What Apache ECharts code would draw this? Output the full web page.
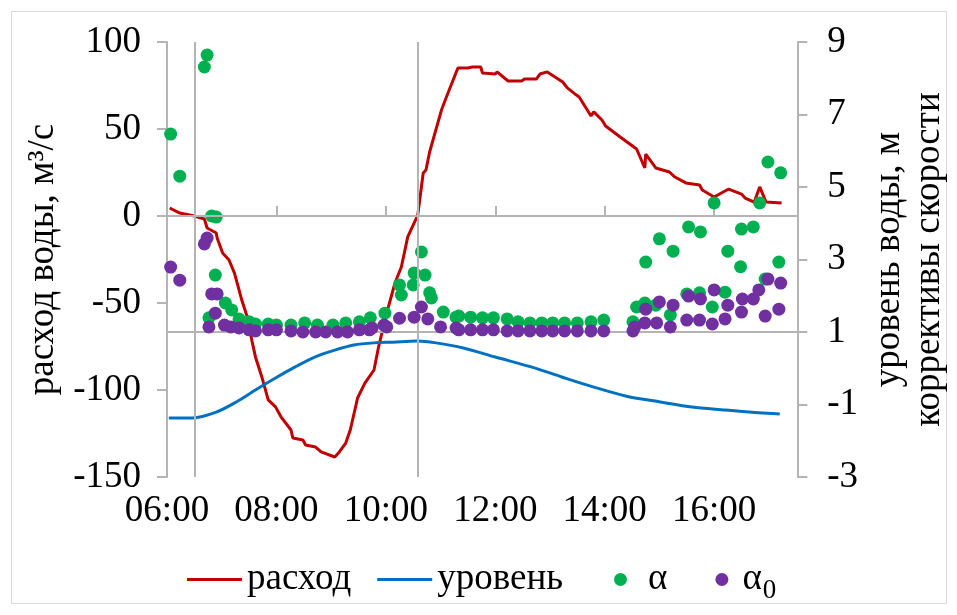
<!DOCTYPE html>
<html>
	<head>
		<meta charset="utf-8">
		<title>расход и уровень воды</title>
		<script src="https://cdn.jsdelivr.net/npm/echarts@6/dist/echarts.min.js"></script>
		<style>
			html, body {
				margin: 0;
				padding: 0;
				background: #fff;
			}

			#chart {
				width: 957px;
				height: 615px;
			}
		</style>
	</head>
	<body>
		<div id="chart"></div>
		<script>
			// расход воды, м3/с (левая ось)
			var flowTimes = ['06:03', '06:14', '06:30', '06:41', '06:44', '06:54', '06:55', '07:01', '07:08', '07:14',
				'07:19', '07:22', '07:28', '07:33', '07:37', '07:44', '07:51', '07:59', '08:05', '08:16', '08:18',
				'08:29', '08:32', '08:43', '08:49', '09:04', '09:09', '09:16', '09:21', '09:29', '09:37', '09:47',
				'09:52', '10:01', '10:10', '10:17', '10:24', '10:35', '10:41', '10:44', '10:48', '11:01', '11:06',
				'11:19', '11:30', '11:35', '11:44', '11:46', '12:00', '12:02', '12:14', '12:29', '12:32', '12:45',
				'12:49', '12:57', '13:14', '13:19', '13:29', '13:32', '13:45', '13:48', '13:57', '14:01', '14:17',
				'14:35', '14:44', '14:45', '14:56', '15:11', '15:17', '15:29', '15:44', '15:47', '16:00', '16:16',
				'16:30', '16:34', '16:44', '16:50', '16:57', '17:14'
			];
			var flowValues = [4.6, 1.7, 0, -1.7, -6.9, -9.8, -12.6, -21.3, -25.3, -32.8,
				-42.5, -48.3, -58, -71.3, -81, -92.5, -105.7, -109.7, -115.4, -123, -127.6,
				-128.7, -131.6, -132.8, -135.6, -138.5, -135.6, -130.5, -123, -104.6, -96, -88.5,
				-75.3, -55.7, -38.5, -29.3, -12, 0.5, 24.7, 26.4, 36.8, 60.9, 67.8,
				85.1, 85.1, 85.6, 85.6, 82.2, 81.6, 82.8, 77.6, 77.6, 78.7, 78.7,
				81.6, 82.8, 77, 73.6, 69.5, 68.4, 57.5, 59.8, 55.2, 51.7, 45.4,
				38.5, 27.6, 35.6, 27.6, 25.3, 22.4, 19, 17.8, 14.9, 10.9, 15.5,
				12.6, 10.3, 8, 16.7, 8, 7.5
			];

			// уровень воды, м (правая ось)
			var levelTimes = ['06:02', '06:28', '06:54', '07:16', '07:37', '07:59', '08:20', '08:42', '09:04', '09:25',
				'09:47', '10:08', '10:34', '10:55', '11:25', '12:00', '12:43', '13:13', '13:48', '14:24', '15:01',
				'15:36', '16:12', '16:49', '17:12'
			];
			var levelValues = [-1.37, -1.37, -1.21, -0.93, -0.6, -0.27, 0.03, 0.31, 0.5, 0.64,
				0.7, 0.72, 0.75, 0.7, 0.56, 0.31, 0.01, -0.24, -0.52, -0.77, -0.93,
				-1.07, -1.15, -1.23, -1.26
			];

			// корректив скорости α (правая ось)
			var alphaTimes = ['06:04', '06:14', '06:41', '06:44', '06:49', '06:54', '06:53', '06:46', '07:04', '07:11',
				'07:19', '07:30', '07:37', '07:51', '08:00', '08:16', '08:31', '08:45', '09:02', '09:16', '09:31',
				'09:43', '09:59', '10:15', '10:17', '10:30', '10:31', '10:39', '10:43', '10:48', '10:50', '11:03',
				'11:17', '11:20', '11:33', '11:46', '11:58', '12:13', '12:25', '12:38', '12:51', '13:03', '13:16',
				'13:30', '13:45', '13:59', '14:31', '14:35', '14:44', '14:45', '14:56', '15:00', '15:12', '15:15',
				'15:30', '15:32', '15:44', '15:45', '15:58', '16:00', '16:12', '16:15', '16:29', '16:30', '16:43',
				'16:50', '16:56', '16:59', '17:11', '17:13'
			];
			var alphaValues = [6.46, 5.3, 8.31, 8.64, 4.2, 4.17, 2.57, 1.39, 1.8, 1.61,
				1.36, 1.28, 1.22, 1.22, 1.19, 1.19, 1.25, 1.19, 1.19, 1.25, 1.28,
				1.39, 1.52, 2.3, 2.02, 2.3, 2.63, 3.21, 2.57, 2.08, 1.94, 1.55,
				1.41, 1.44, 1.41, 1.39, 1.39, 1.36, 1.28, 1.25, 1.25, 1.25, 1.25,
				1.25, 1.28, 1.33, 1.28, 1.69, 1.8, 2.93, 1.74, 3.57, 1.47, 3.23,
				2.05, 3.9, 2.08, 3.76, 1.69, 4.56, 2.1, 3.23, 2.8, 3.84, 3.9,
				4.56, 2.46, 5.69, 2.93, 5.39
			];

			// α0 (правая ось)
			var alpha0Times = ['06:04', '06:14', '06:41', '06:44', '06:49', '06:55', '06:53', '06:46', '07:03', '07:10',
				'07:19', '07:30', '07:37', '07:51', '08:00', '08:16', '08:29', '08:43', '08:54', '09:07', '09:18',
				'09:31', '09:42', '09:45', '09:58', '10:01', '10:15', '10:31', '10:39', '10:46', '11:00', '11:17',
				'11:20', '11:33', '11:46', '11:58', '12:13', '12:25', '12:38', '12:51', '13:03', '13:16', '13:30',
				'13:45', '13:59', '14:31', '14:33', '14:44', '14:45', '14:57', '15:00', '15:12', '15:15', '15:30',
				'15:32', '15:44', '15:45', '15:58', '16:00', '16:12', '16:15', '16:30', '16:31', '16:43', '16:49',
				'16:56', '16:59', '17:11', '17:13'
			];
			var alpha0Values = [2.79, 2.43, 3.43, 3.59, 2.05, 2.05, 1.52, 1.14, 1.19, 1.14,
				1.11, 1.06, 1.03, 1.06, 1.06, 1.03, 1, 1, 1, 1, 1,
				1.06, 1.06, 1.11, 1.19, 1.14, 1.38, 1.41, 1.69, 1.36, 1.14, 1.11,
				1.06, 1.06, 1.06, 1.06, 1.03, 1.03, 1.03, 1.03, 1.03, 1.03, 1.03,
				1.03, 1.03, 1.03, 1.14, 1.25, 1.63, 1.25, 1.83, 1.14, 1.74, 1.33,
				1.99, 1.33, 1.91, 1.22, 2.16, 1.36, 1.74, 1.55, 1.91, 1.91, 2.16,
				1.44, 2.46, 1.63, 2.35
			];

			// опорные линии
			var markTimes = ['06:30', '10:35'];
			var flowRef = 0;
			var alphaRef = 1;

			var xTicks = ['06:00', '08:00', '10:00', '12:00', '14:00', '16:00'];

			function toHours(s) {
				var p = s.split(':');
				return +p[0] + p[1] / 60;
			}

			function zip(times, values) {
				var out = [];
				for (var i = 0; i < times.length; i++) {
					out.push([toHours(times[i]), values[i]]);
				}
				return out;
			}

			var font = 'Liberation Serif';
			var fsize = 37;
			var grey = '#B4B4B4';
			var refLine = {
				symbol: ['none', 'none'],
				silent: true,
				label: {
					show: false
				},
				lineStyle: {
					color: grey,
					width: 2,
					type: 'solid'
				}
			};

			var chart = echarts.init(document.getElementById('chart'));
			var option = {
				animation: false,
				backgroundColor: '#fff',
				textStyle: {
					fontFamily: font
				},
				graphic: [{
					type: 'rect',
					shape: {
						x: 11.5,
						y: 11.5,
						width: 935,
						height: 592
					},
					style: {
						fill: 'none',
						stroke: '#D9D9D9',
						lineWidth: 1
					}
				}],
				grid: {
					left: 167,
					right: 153,
					top: 42,
					bottom: 138
				},
				legend: [{
					left: 182,
					top: 556,
					itemWidth: 55,
					itemHeight: 3,
					itemGap: 26,
					data: [{
						name: 'расход',
						icon: 'rect'
					}, {
						name: 'уровень',
						icon: 'rect'
					}],
					textStyle: {
						fontFamily: font,
						fontSize: fsize,
						color: '#000'
					}
				}, {
					left: 609,
					top: 556,
					itemWidth: 13,
					itemHeight: 13,
					itemGap: 48,
					data: [{
						name: 'α',
						icon: 'circle',
						textStyle: {
							padding: [0, 0, 0, 16]
						}
					}, {
						name: 'α0',
						icon: 'circle',
						textStyle: {
							padding: [0, 0, 0, 9]
						}
					}],
					formatter: function(name) {
						return name === 'α0' ? 'α{sub|0}' : name;
					},
					textStyle: {
						fontFamily: font,
						fontSize: fsize,
						color: '#000',
						rich: {
							sub: {
								fontFamily: font,
								fontSize: 27,
								padding: [22, 0, 0, 1],
								verticalAlign: 'bottom'
							}
						}
					}
				}],
				xAxis: {
					type: 'value',
					min: 6,
					max: 17.52,
					interval: 2,
					axisLine: {
						lineStyle: {
							color: grey,
							width: 2
						}
					},
					axisTick: {
						inside: true,
						length: 10,
						lineStyle: {
							color: grey,
							width: 2
						}
					},
					splitLine: {
						show: false
					},
					axisLabel: {
						fontFamily: font,
						fontSize: fsize,
						color: '#000',
						margin: 16,
						showMaxLabel: false,
						formatter: function(v) {
							return xTicks[Math.round((v - 6) / 2)] || '';
						}
					}
				},
				yAxis: [{
					type: 'value',
					min: -150,
					max: 100,
					interval: 50,
					name: 'расход воды, м³/с',
					nameLocation: 'middle',
					nameRotate: 90,
					nameGap: 100,
					nameTextStyle: {
						fontFamily: font,
						fontSize: fsize,
						color: '#000'
					},
					axisLine: {
						show: true,
						lineStyle: {
							color: grey,
							width: 2
						}
					},
					axisTick: {
						show: true,
						length: 10,
						lineStyle: {
							color: grey,
							width: 2
						}
					},
					splitLine: {
						show: false
					},
					axisLabel: {
						fontFamily: font,
						fontSize: fsize,
						color: '#000',
						margin: 26
					}
				}, {
					type: 'value',
					min: -3,
					max: 9,
					interval: 2,
					position: 'right',
					name: 'уровень воды, м\nкоррективы скорости',
					nameLocation: 'middle',
					nameRotate: 90,
					nameGap: 64,
					nameTextStyle: {
						fontFamily: font,
						fontSize: fsize,
						lineHeight: 40,
						color: '#000'
					},
					axisLine: {
						show: true,
						lineStyle: {
							color: grey,
							width: 2
						}
					},
					axisTick: {
						show: true,
						length: 10,
						lineStyle: {
							color: grey,
							width: 2
						}
					},
					splitLine: {
						show: false
					},
					axisLabel: {
						fontFamily: font,
						fontSize: fsize,
						color: '#000',
						margin: 30
					}
				}],
				series: [{
					name: 'расход',
					type: 'line',
					yAxisIndex: 0,
					showSymbol: false,
					symbol: 'none',
					data: zip(flowTimes, flowValues),
					itemStyle: {
						color: '#C00000'
					},
					lineStyle: {
						color: '#C00000',
						width: 3
					},
					markLine: Object.assign({}, refLine, {
						data: [{
							yAxis: flowRef
						}, {
							xAxis: toHours(markTimes[0])
						}, {
							xAxis: toHours(markTimes[1])
						}]
					}),
					z: 3
				}, {
					name: 'уровень',
					type: 'line',
					yAxisIndex: 1,
					showSymbol: false,
					symbol: 'none',
					smooth: 0.3,
					data: zip(levelTimes, levelValues),
					itemStyle: {
						color: '#0070C0'
					},
					lineStyle: {
						color: '#0070C0',
						width: 3
					},
					z: 3
				}, {
					name: 'α',
					type: 'scatter',
					yAxisIndex: 1,
					symbol: 'circle',
					symbolSize: 13,
					data: zip(alphaTimes, alphaValues),
					itemStyle: {
						color: '#00B050',
						opacity: 1
					},
					markLine: Object.assign({}, refLine, {
						data: [{
							yAxis: alphaRef
						}]
					}),
					z: 4
				}, {
					name: 'α0',
					type: 'scatter',
					yAxisIndex: 1,
					symbol: 'circle',
					symbolSize: 13,
					data: zip(alpha0Times, alpha0Values),
					itemStyle: {
						color: '#7030A0',
						opacity: 1
					},
					z: 5
				}]
			};
			chart.setOption(option);
		</script>
	</body>
</html>
